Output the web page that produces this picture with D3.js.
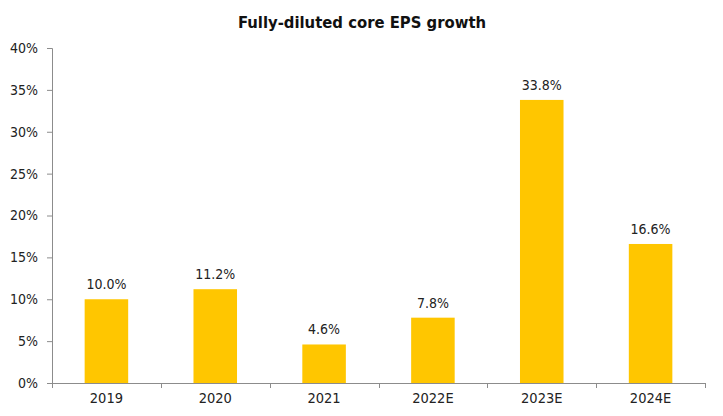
<!DOCTYPE html>
<html>
<head>
<meta charset="utf-8">
<script src="https://cdn.jsdelivr.net/npm/d3@7/dist/d3.min.js"></script>
<style>
  html, body { margin: 0; padding: 0; background: #fff; }
  svg { display: block; font-family: "DejaVu Sans Condensed", "DejaVu Sans", sans-serif; }
</style>
</head>
<body>
<svg id="chart" width="723" height="416"></svg>
<script>
// EPS growth by year (percent)
const categories = ["2019", "2020", "2021", "2022E", "2023E", "2024E"];
const growth = [10.0, 11.2, 4.6, 7.8, 33.8, 16.6];
const yTicks = [0, 5, 10, 15, 20, 25, 30, 35, 40];
const title = "Fully-diluted core EPS growth";

const svg = d3.select("#chart");
const margin = { top: 48, right: 18, bottom: 33, left: 52 };
const width = 723 - margin.left - margin.right;
const height = 416 - margin.top - margin.bottom;
const font = "DejaVu Sans Condensed, DejaVu Sans, sans-serif";

const g = svg.append("g").attr("transform", `translate(${margin.left},${margin.top})`);

const x = d3.scaleBand().domain(categories).range([0, width]).paddingInner(0.6).paddingOuter(0.3);
const y = d3.scaleLinear().domain([0, 40]).range([height, 0]);

svg.append("text")
  .attr("x", 362).attr("y", 28)
  .attr("text-anchor", "middle")
  .attr("font-size", 16.5).attr("font-weight", "bold").attr("fill", "#111")
  .text(title);

// bars
g.selectAll("rect.bar").data(growth).enter().append("rect")
  .attr("class", "bar")
  .attr("x", (d, i) => x(categories[i]))
  .attr("width", x.bandwidth())
  .attr("y", d => y(d))
  .attr("height", d => height - y(d))
  .attr("fill", "#FFC600");

// value labels
g.selectAll("text.val").data(growth).enter().append("text")
  .attr("class", "val")
  .attr("x", (d, i) => x(categories[i]) + x.bandwidth() / 2)
  .attr("y", d => y(d) - 10)
  .attr("text-anchor", "middle")
  .attr("font-size", 14).attr("fill", "#222")
  .text(d => d.toFixed(1) + "%");

// y axis
const yAxis = g.append("g")
  .call(d3.axisLeft(y).tickValues(yTicks).tickSize(5).tickPadding(9).tickFormat(d => d + "%"));
yAxis.select(".domain").attr("stroke", "#8c8c8c").attr("d", `M-5,0.5H0.5V${height}`);
yAxis.selectAll(".tick line").attr("stroke", "#8c8c8c");
yAxis.selectAll(".tick text").attr("font-size", 14).attr("fill", "#222").attr("font-family", font);

// x axis with ticks between categories
const xg = g.append("g").attr("transform", `translate(0,${height})`);
xg.append("line").attr("x1", 0).attr("x2", width).attr("y1", 0.5).attr("y2", 0.5).attr("stroke", "#8c8c8c");
const boundaries = d3.range(categories.length + 1).map(i => i * width / categories.length);
xg.selectAll("line.tk").data(boundaries).enter().append("line")
  .attr("class", "tk")
  .attr("x1", d => Math.round(d) + 0.5).attr("x2", d => Math.round(d) + 0.5)
  .attr("y1", 0).attr("y2", 5).attr("stroke", "#8c8c8c");
xg.selectAll("text").data(categories).enter().append("text")
  .attr("x", d => x(d) + x.bandwidth() / 2)
  .attr("y", 20)
  .attr("text-anchor", "middle")
  .attr("font-size", 14.5).attr("fill", "#222")
  .text(d => d);
</script>
</body>
</html>
